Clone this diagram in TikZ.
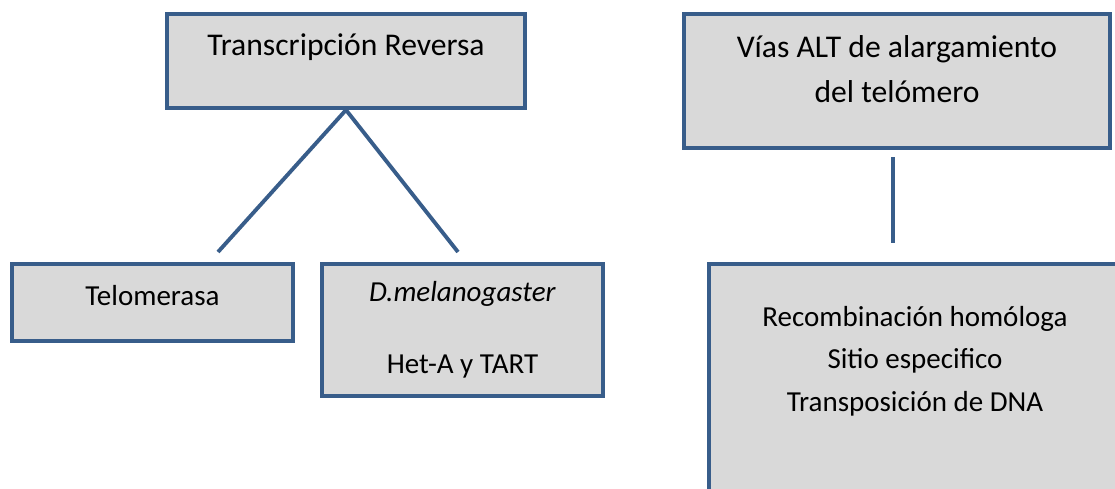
\documentclass[tikz,border=0pt]{standalone}
\usepackage{fontspec}
\setmainfont{Carlito}
\usetikzlibrary{positioning}
\definecolor{borde}{RGB}{56,93,138}
\definecolor{relleno}{RGB}{217,217,217}

\begin{document}
\begin{tikzpicture}
  [
  font=\fontsize{16.5}{20}\selectfont, line width=2.2pt,
  titulo/.style={rectangle, draw=borde, fill=relleno, align=center, font=\fontsize{18}{22}\selectfont},
  caja/.style={rectangle, draw=borde, fill=relleno, align=center},
  rama/.style={draw=borde, line width=2.2pt}
  ]

\useasboundingbox (0,0) rectangle (22.3,-9.78);

\node[titulo, minimum width=71.6mm, minimum height=18.8mm, text height=4.5mm, text depth=6.7mm] (trans) at (6.92,-1.22) {Transcripción Reversa};
\node[titulo, minimum width=85.2mm, minimum height=26.8mm, text height=13.4mm, text depth=4.8mm] (alt) at (17.94,-1.62) {Vías ALT de alargamiento\\[1.3mm]del telómero};

\node[caja, minimum width=56.2mm, minimum height=15.4mm, text height=4.5mm, text depth=3.5mm] (telo) at (3.05,-6.05) {Telomerasa};
\node[caja, minimum width=56.2mm, minimum height=26.4mm] (dmel) at (9.25,-6.6) {\textit{D.melanogaster}\\[7.4mm]Het-A y TART};
\node[caja, minimum width=82.4mm, minimum height=59.2mm, text height=20mm, text depth=20.4mm] (recomb) at (18.3,-8.24) {Recombinación homóloga\\[1.4mm]Sitio especifico\\[1.4mm]Transposición de DNA};

\coordinate (telo-fin) at (4.36,-5.04);
\coordinate (dmel-fin) at (9.16,-5.04);
\coordinate (alt-ini) at (17.86,-3.14);
\coordinate (alt-fin) at (17.86,-4.86);

\draw[rama] (trans.south) -- (telo-fin);
\draw[rama] (trans.south) -- (dmel-fin);
\draw[rama] (alt-ini) -- (alt-fin);

\end{tikzpicture}
\end{document}
